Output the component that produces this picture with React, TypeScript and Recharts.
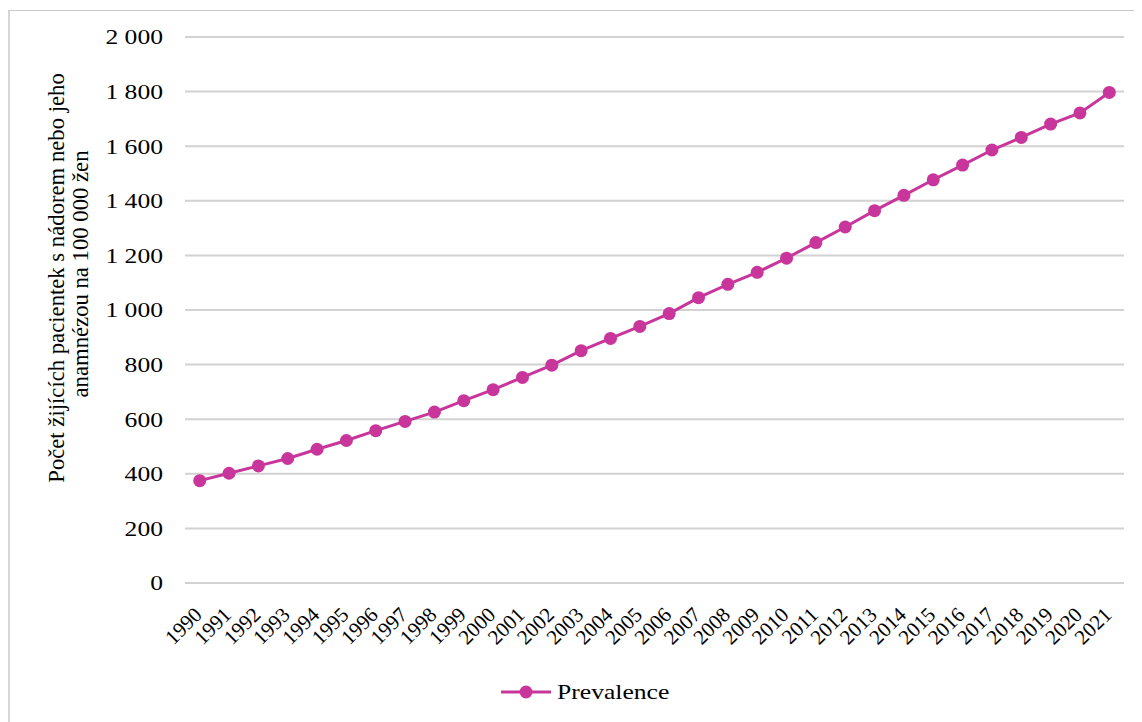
import React from "react";
import {
  LineChart,
  Line,
  XAxis,
  YAxis,
  CartesianGrid,
  Legend,
} from "recharts";

const years = [
  "1990", "1991", "1992", "1993", "1994", "1995", "1996", "1997",
  "1998", "1999", "2000", "2001", "2002", "2003", "2004", "2005",
  "2006", "2007", "2008", "2009", "2010", "2011", "2012", "2013",
  "2014", "2015", "2016", "2017", "2018", "2019", "2020", "2021",
];

const prevalence = [
  375, 402, 429, 456, 490, 522, 558, 592,
  626, 668, 708, 753, 798, 851, 896, 940,
  987, 1045, 1094, 1138, 1190, 1247, 1304, 1364,
  1420, 1477, 1531, 1586, 1632, 1681, 1722, 1797,
];

const yTicks = [0, 200, 400, 600, 800, 1000, 1200, 1400, 1600, 1800, 2000];

const seriesName = "Prevalence";
const yTitle = [
  "Počet žijících pacientek s nádorem nebo jeho",
  "anamnézou na 100 000 žen",
];

const data = years.map((year, i) => ({ year, value: prevalence[i] }));

const FONT = '"Liberation Serif", "Times New Roman", serif';
const PINK = "#C8369C";

const fmt = (v: number) =>
  String(v).replace(/\B(?=(\d{3})+(?!\d))/g, " ");

function YTick({ x, y, payload }: any) {
  return (
    <text
      transform={`translate(${x},${y}) scale(1.22,1)`}
      textAnchor="end"
      dy="0.35em"
      fontFamily={FONT}
      fontSize={21}
      fill="#000"
    >
      {fmt(payload.value)}
    </text>
  );
}

function XTick({ x, y, payload }: any) {
  return (
    <text
      transform={`translate(${x + 3.5},${y + 33}) rotate(-45)`}
      textAnchor="end"
      fontFamily={FONT}
      fontSize={21}
      fill="#000"
    >
      {payload.value}
    </text>
  );
}

function YTitle() {
  return (
    <g fontFamily={FONT} fontSize={22.7} fill="#000">
      <text transform="translate(64,278) rotate(-90)" textAnchor="middle">
        {yTitle[0]}
      </text>
      <text transform="translate(88,274) rotate(-90)" textAnchor="middle">
        {yTitle[1]}
      </text>
    </g>
  );
}

function LegendBox() {
  return (
    <svg width={1142} height={40} style={{ display: "block" }}>
      <line x1={501} y1={22} x2={551} y2={22} stroke={PINK} strokeWidth={3} />
      <circle cx={526} cy={22} r={6.5} fill={PINK} />
      <text
        transform="translate(557,29) scale(1.22,1)"
        fontFamily={FONT}
        fontSize={21}
        fill="#000"
      >
        {seriesName}
      </text>
    </svg>
  );
}

export default function App() {
  return (
    <div
      style={{
        position: "relative",
        width: 1142,
        height: 722,
        margin: "-8px 0 0 -8px",
        background: "#fff",
        overflow: "hidden",
      }}
    >
      <div
        style={{
          position: "absolute",
          left: 6,
          top: 10,
          width: 1136,
          height: 712,
          borderTop: "1px solid #C8C8C8",
          borderLeft: "4px solid #D6D6D6",
          boxSizing: "border-box",
        }}
      />
      <div style={{ position: "absolute", left: 0, top: 0 }}>
        <LineChart
          width={1142}
          height={722}
          data={data}
          margin={{ top: 37, right: 18, left: 0, bottom: 59 }}
        >
          <CartesianGrid
            vertical={false}
            stroke="#D2D2D2"
            strokeWidth={2}
          />
          <XAxis
            dataKey="year"
            axisLine={false}
            tickLine={false}
            tickSize={0}
            tickMargin={0}
            interval={0}
            height={80}
            padding={{ left: 14.7, right: 14.7 }}
            tick={<XTick />}
          />
          <YAxis
            domain={[0, 2000]}
            ticks={yTicks}
            axisLine={false}
            tickLine={false}
            tickSize={0}
            tickMargin={22}
            width={185}
            tick={<YTick />}
          />
          <Legend
            verticalAlign="middle"
            layout="horizontal"
            wrapperStyle={{ left: 0, top: 670, width: 1142, height: 40 }}
            content={() => <LegendBox />}
          />
          <Line
            type="linear"
            dataKey="value"
            name={seriesName}
            stroke={PINK}
            strokeWidth={3}
            dot={{ r: 6.5, fill: PINK, stroke: PINK, strokeWidth: 0 }}
            isAnimationActive={false}
          />
          <YTitle />
        </LineChart>
      </div>
    </div>
  );
}
